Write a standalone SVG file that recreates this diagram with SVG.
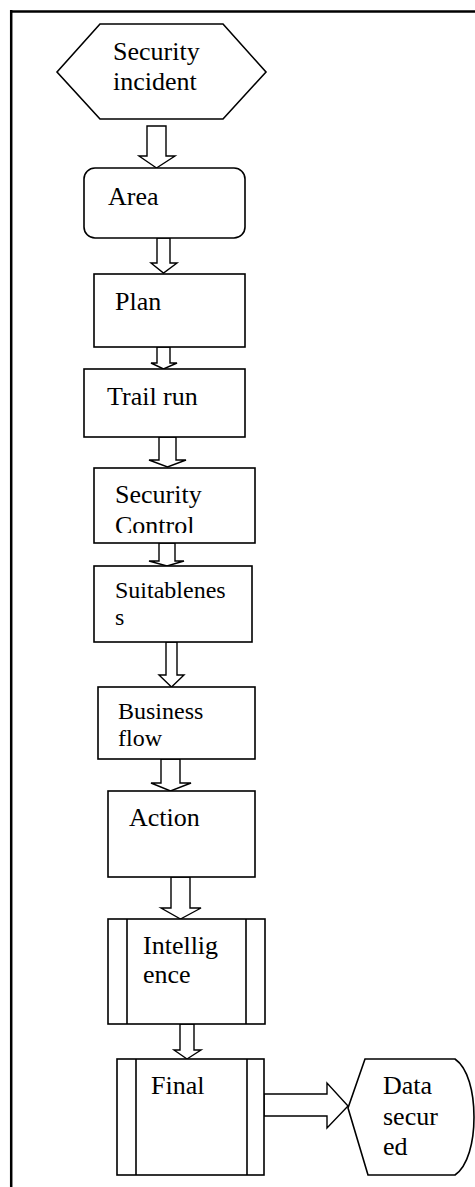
<svg xmlns="http://www.w3.org/2000/svg" width="475" height="1187" viewBox="0 0 475 1187">
<style>
.n{fill:#fff;stroke:#000;stroke-width:1.6}
.c{fill:#fff;stroke:#000;stroke-width:1.4;stroke-linejoin:miter}
.l{fill:none;stroke:#000;stroke-width:1.6}
text{font-family:"Liberation Serif","Times New Roman",serif;font-size:26px;fill:#000}
.s{font-size:24px}
</style>
<defs>
<clipPath id="clipCtrl"><rect x="94" y="468" width="161" height="65"/></clipPath>
</defs>
<rect x="0" y="0" width="475" height="1187" fill="#fff"/>
<g id="frame">
<line x1="10" y1="11.5" x2="475" y2="11.5" stroke="#000" stroke-width="2.5"/>
<line x1="11.2" y1="10" x2="11.2" y2="1187" stroke="#000" stroke-width="2.5"/>
</g>
<g id="connectors">
<polygon class="c" points="147,126 166,126 166,156 175,156 156.5,168 139,156 147,156"/>
<polygon class="c" points="157,238 170,238 170,263 177,263 163.5,273 151,263 157,263"/>
<polygon class="c" points="157,347 170,347 170,363 177,363 163.5,369 151,363 157,363"/>
<polygon class="c" points="159,437 176,437 176,460 186,460 167.5,467 149,460 159,460"/>
<polygon class="c" points="159,543 175,543 175,561 184,561 167,566 149,561 159,561"/>
<polygon class="c" points="166,642 177,642 177,675 184,675 171.5,687 159,675 166,675"/>
<polygon class="c" points="161,759 180,759 180,783 191,783 170.5,791 151,783 161,783"/>
<polygon class="c" points="171,877 190,877 190,908 201,908 180.5,919 161,908 171,908"/>
<polygon class="c" points="180,1024 194,1024 194,1050 201,1050 187,1059 174,1050 180,1050"/>
<polygon class="c" points="264,1094 327,1094 327,1083 348,1106 327,1128 327,1116 264,1116"/>
</g>
<g id="security-incident">
<polygon class="n" points="57,72 100,24 223,24 266,72 223,119 100,119"/>
<text x="113" y="60">Security</text>
<text x="113" y="90">incident</text>
</g>
<g id="area">
<rect class="n" x="84" y="168" width="161" height="70" rx="11"/>
<text x="108" y="205">Area</text>
</g>
<g id="plan">
<rect class="n" x="94" y="274" width="151" height="73"/>
<text x="115" y="310">Plan</text>
</g>
<g id="trail-run">
<rect class="n" x="84" y="369" width="161" height="68"/>
<text x="107" y="405">Trail run</text>
</g>
<g id="security-control">
<rect class="n" x="94" y="468" width="161" height="75"/>
<text x="115" y="503">Security</text>
<text x="115" y="534" clip-path="url(#clipCtrl)">Control</text>
</g>
<g id="suitableness">
<rect class="n" x="94" y="566" width="158" height="76"/>
<text class="s" x="115" y="598">Suitablenes</text>
<text class="s" x="115" y="625">s</text>
</g>
<g id="business-flow">
<rect class="n" x="98" y="687" width="157" height="72"/>
<text class="s" x="118" y="719">Business</text>
<text class="s" x="118" y="746">flow</text>
</g>
<g id="action">
<rect class="n" x="108" y="791" width="147" height="86"/>
<text x="129" y="826">Action</text>
</g>
<g id="intelligence">
<rect class="n" x="108" y="919" width="157" height="105"/>
<line class="l" x1="127" y1="919" x2="127" y2="1024"/>
<line class="l" x1="246" y1="919" x2="246" y2="1024"/>
<text x="143" y="954">Intellig</text>
<text x="143" y="983">ence</text>
</g>
<g id="final">
<rect class="n" x="117" y="1059" width="147" height="116"/>
<line class="l" x1="136" y1="1059" x2="136" y2="1175"/>
<line class="l" x1="247" y1="1059" x2="247" y2="1175"/>
<text x="151" y="1094">Final</text>
</g>
<g id="data-secured">
<path class="n" d="M365,1059 L455,1059 C468,1068 474,1092 474,1117 C474,1142 468,1166 455,1175 L368,1175 L348,1108 Z"/>
<text x="383" y="1094">Data</text>
<text x="383" y="1125">secur</text>
<text x="383" y="1155">ed</text>
</g>
</svg>
